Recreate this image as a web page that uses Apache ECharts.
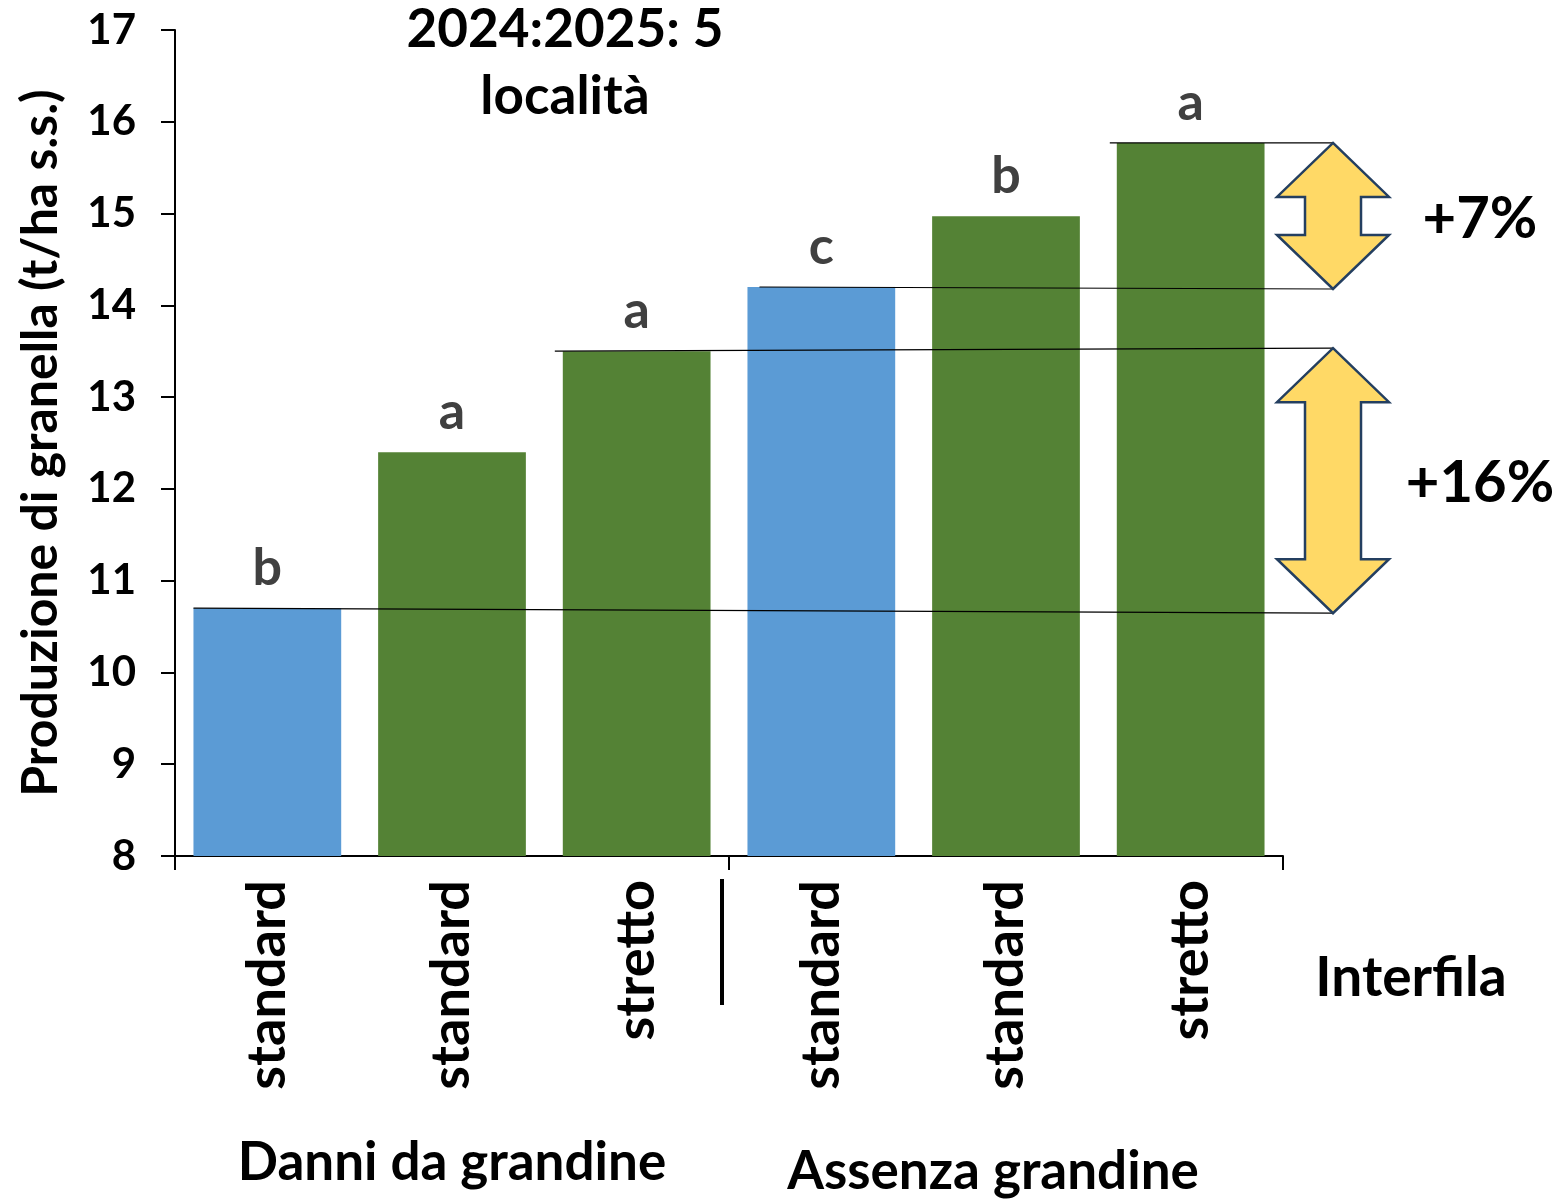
<!DOCTYPE html>
<html>
<head>
<meta charset="utf-8">
<script src="https://cdn.jsdelivr.net/npm/echarts@6/dist/echarts.min.js"></script>
<style>html,body{margin:0;padding:0;background:#fff;}#c{width:1557px;height:1200px;}</style>
</head>
<body>
<div id="c"></div>
<script>
// ---- data ----
const categories = ['standard', 'standard', 'stretto', 'standard', 'standard', 'stretto'];
const groups = ['Danni da grandine', 'Assenza grandine'];
const values = [10.7, 12.4, 13.5, 14.2, 14.97, 15.77];
const letters = ['b', 'a', 'a', 'c', 'b', 'a'];
const yTicks = [8, 9, 10, 11, 12, 13, 14, 15, 16, 17];
const titleLines = ['2024:2025: 5', 'località'];
const yName = 'Produzione di granella (t/ha s.s.)';
const xName = 'Interfila';
const diffs = [{from: 3, to: 5, label: '+7%'}, {from: 0, to: 2, label: '+16%'}];

// ---- style ----
const FONT = 'Lato';
const BLUE = '#5B9BD5', GREEN = '#548235';
const barColors = [BLUE, GREEN, GREEN, BLUE, GREEN, GREEN];
// hand-drawn look of the reference lines: small vertical offset of each line's end at the arrow (px)
const lineEndOffset = {0: 5, 2: -3, 3: 2, 5: 0};
const lineStartShift = {0: 0, 2: -8, 3: 12, 5: -7};

const chart = echarts.init(document.getElementById('c'), null, {renderer: 'canvas'});
const grid = {left: 175, right: 274, top: 30, bottom: 344};

chart.setOption({
  animation: false,
  backgroundColor: '#fff',
  grid: grid,
  xAxis: [{
    type: 'category', data: categories, position: 'bottom',
    axisLine: {lineStyle: {color: '#000', width: 2}},
    axisTick: {show: false},
    axisLabel: {rotate: 90, margin: 24, color: '#000', fontFamily: FONT, fontWeight: 'bold', fontSize: 54, interval: 0}
  }, {
    type: 'category', data: groups, position: 'bottom', gridIndex: 0,
    axisLine: {show: false},
    axisTick: {show: true, length: 14, lineStyle: {color: '#000', width: 2}},
    axisLabel: {margin: 280, color: '#000', fontFamily: FONT, fontWeight: 'bold', fontSize: 53, interval: 0,
      formatter: (v, i) => i === 0 ? '{a|' + v + '}' : '{b|' + v + '}',
      rich: {a: {fontFamily: FONT, fontWeight: 'bold', fontSize: 53, color: '#000', padding: [0, 0, 0, 0]},
             b: {fontFamily: FONT, fontWeight: 'bold', fontSize: 53, color: '#000', padding: [9, 26, 0, 0]}}}
  }],
  yAxis: {
    type: 'value', min: yTicks[0], max: yTicks[yTicks.length - 1], interval: 1,
    name: yName, nameLocation: 'middle', nameGap: 109, nameRotate: 90,
    nameTextStyle: {color: '#000', fontFamily: FONT, fontWeight: 'bold', fontSize: 50},
    axisLine: {show: true, lineStyle: {color: '#000', width: 2}},
    axisTick: {show: true, inside: false, length: 14, lineStyle: {color: '#000', width: 2}},
    splitLine: {show: false},
    axisLabel: {margin: 39, color: '#000', fontFamily: FONT, fontWeight: 'bold', fontSize: 42}
  },
  series: [{
    type: 'bar', xAxisIndex: 0, barCategoryGap: '20%',
    data: values.map((v, i) => ({value: v, itemStyle: {color: barColors[i]}})),
    label: {show: true, position: 'top', distance: 14, color: '#404040', fontFamily: FONT, fontWeight: 'bold', fontSize: 52,
      formatter: p => letters[p.dataIndex]}
  }]
});

function drawOverlay() {
  const P = (i, v) => chart.convertToPixel({xAxisIndex: 0, yAxisIndex: 0}, [i, v]);
  const catW = P(1, 8)[0] - P(0, 8)[0];
  const halfBar = catW * 0.4;
  const rightX = P(categories.length - 1, 8)[0] + catW / 2;
  const arrowX = rightX + 50;
  const els = [];
  const endY = {};
  // reference lines from bar tops to the arrow axis
  const lineIdx = [];
  diffs.forEach(d => { lineIdx.push(d.from, d.to); });
  lineIdx.forEach(i => {
    const p = P(i, values[i]);
    const ye = p[1] + (lineEndOffset[i] || 0);
    endY[i] = ye;
    els.push({type: 'line', shape: {x1: p[0] - halfBar + (lineStartShift[i] || 0), y1: p[1], x2: arrowX, y2: ye},
      style: {stroke: '#000', lineWidth: 1.2}, z: 10});
  });
  // double arrows
  diffs.forEach(d => {
    const yt = endY[d.to];
    const yb = endY[d.from];
    const hh = 54, hw = 56, sw = 28;
    const pts = [
      [arrowX, yt], [arrowX + hw, yt + hh], [arrowX + sw, yt + hh], [arrowX + sw, yb - hh],
      [arrowX + hw, yb - hh], [arrowX, yb], [arrowX - hw, yb - hh], [arrowX - sw, yb - hh],
      [arrowX - sw, yt + hh], [arrowX - hw, yt + hh]
    ];
    els.push({type: 'polygon', shape: {points: pts}, style: {fill: '#FFD966', stroke: '#243F60', lineWidth: 2.5}, z: 11});
    els.push({type: 'text', x: arrowX + 147, y: (yt + yb) / 2 + 3,
      style: {text: d.label, fill: '#000', font: 'bold 58px ' + FONT, textAlign: 'center', textVerticalAlign: 'middle'}, z: 12});
  });
  // group divider
  const divX = P(3, 8)[0] - catW / 2 - 7;
  const axisY = P(0, 8)[1];
  els.push({type: 'line', shape: {x1: divX, y1: axisY + 23, x2: divX, y2: axisY + 149},
    style: {stroke: '#000', lineWidth: 4}, z: 10});
  // title
  els.push({type: 'text', x: 565, y: 63.5,
    style: {text: titleLines.join('\n'), fill: '#000', font: 'bold 53px ' + FONT, textAlign: 'center', textVerticalAlign: 'middle', lineHeight: 67}, z: 12});
  // x-axis name
  els.push({type: 'text', x: rightX + 128, y: axisY + 122,
    style: {text: xName, fill: '#000', font: 'bold 55px ' + FONT, textAlign: 'center', textVerticalAlign: 'middle'}, z: 12});
  chart.setOption({graphic: {elements: els}});
}
drawOverlay();
</script>
</body>
</html>
